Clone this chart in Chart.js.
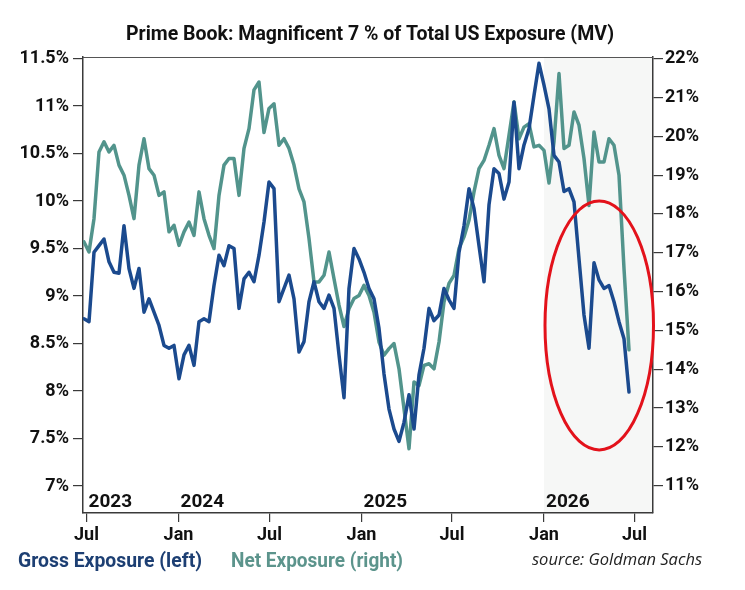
<!DOCTYPE html>
<html>
<head>
<meta charset="utf-8">
<script src="https://cdn.jsdelivr.net/npm/chart.js@4.4.1/dist/chart.umd.min.js"></script>
<style>
  html, body { margin: 0; padding: 0; background: #ffffff; }
  canvas { display: block; }
</style>
</head>
<body>
<canvas id="c" width="745" height="590"></canvas>
<script>
// ---------- text ----------
const titleText = 'Prime Book: Magnificent 7 % of Total US Exposure (MV)';
const grossLabel = 'Gross Exposure (left)';
const netLabel = 'Net Exposure (right)';
const sourceText = 'source: Goldman Sachs';

// ---------- sampling of the series (one reading every 10 days) ----------
const sampleStart = '2023-06-26';
const sampleStepDays = 10;

// Gross exposure, % (left axis)
const grossExposure = [
  8.76, 8.73, 9.46, 9.53, 9.60, 9.36, 9.25, 9.24, 9.74, 9.29,
  9.08, 9.29, 8.83, 8.97, 8.83, 8.69, 8.48, 8.45, 8.48, 8.13,
  8.38, 8.48, 8.27, 8.73, 8.76, 8.73, 9.11, 9.43, 9.32, 9.53,
  9.50, 8.87, 9.18, 9.25, 9.15, 9.43, 9.78, 10.20, 10.13, 8.94,
  9.08, 9.22, 8.97, 8.41, 8.52, 8.94, 9.15, 8.94, 8.87, 9.01,
  8.87, 8.38, 7.93, 9.08, 9.50, 9.39, 9.25, 9.08, 8.97, 8.66,
  8.18, 7.81, 7.60, 7.47, 7.67, 7.96, 7.60, 8.17, 8.45, 8.87,
  8.74, 8.80, 9.08, 8.96, 8.87, 9.46, 9.74, 10.13, 9.92, 9.53,
  9.15, 9.96, 10.34, 10.29, 10.02, 10.20, 11.04, 10.34, 10.59, 10.76,
  11.11, 11.45, 11.22, 10.97, 10.48, 10.41, 10.10, 10.13, 9.99, 9.39,
  8.80, 8.45, 9.35, 9.17, 9.08, 9.11, 8.94, 8.73, 8.55, 7.99
];

// Net exposure, % (right axis)
const netExposure = [
  17.28, 17.02, 17.88, 19.60, 19.86, 19.60, 19.77, 19.26, 19.00, 18.48,
  17.88, 19.26, 19.94, 19.17, 19.00, 18.48, 18.57, 17.54, 17.71, 17.19,
  17.54, 17.79, 17.45, 18.57, 17.88, 17.45, 17.11, 18.48, 19.26, 19.43,
  19.43, 18.48, 19.69, 20.20, 21.20, 21.40, 20.10, 20.72, 20.84, 19.77,
  19.94, 19.69, 19.26, 18.65, 18.31, 17.37, 16.25, 16.25, 16.42, 17.02,
  16.33, 15.65, 15.10, 15.56, 15.82, 15.90, 16.16, 15.90, 15.47, 14.70,
  14.36, 14.53, 14.66, 14.01, 12.98, 11.95, 13.67, 13.58, 14.10, 14.14,
  14.01, 14.70, 15.73, 16.21, 16.42, 17.11, 17.41, 17.84, 18.57, 19.17,
  19.38, 19.77, 20.20, 19.51, 19.17, 20.03, 20.89, 19.94, 20.24, 20.33,
  19.73, 19.77, 19.64, 18.80, 19.86, 21.62, 19.69, 19.77, 20.63, 20.29,
  19.43, 18.22, 20.11, 19.34, 19.34, 19.94, 19.77, 19.00, 16.59, 14.50
];

// ---------- axes ----------
const xTickDates  = ['2023-07-01', '2024-01-01', '2024-07-01', '2025-01-01', '2025-07-01', '2026-01-01', '2026-07-01'];
const xTickLabels = ['Jul', 'Jan', 'Jul', 'Jan', 'Jul', 'Jan', 'Jul'];
const yearLabelDates = ['2023-07-01', '2024-01-01', '2025-01-01', '2026-01-01'];
const yearLabels     = ['2023', '2024', '2025', '2026'];
const leftTicks  = [7, 7.5, 8, 8.5, 9, 9.5, 10, 10.5, 11, 11.5];
const rightTicks = [11, 12, 13, 14, 15, 16, 17, 18, 19, 20, 21, 22];
const xRangeDates = ['2023-06-24', '2026-08-07'];
const leftRange  = [6.716, 11.516];
const rightRange = [10.294, 22.046];

// highlighted period and circled area (data coordinates)
const shadeStartDate = '2026-01-01';
const circleDates = ['2026-01-03', '2026-08-08'];
const circleGross = [7.38, 10.0];

// ---------- helpers ----------
const MS_DAY = 86400000;
const EPOCH = Date.UTC(2023, 6, 1);
function dayOf(iso) {
  const [y, m, d] = iso.split('-').map(Number);
  return (Date.UTC(y, m - 1, d) - EPOCH) / MS_DAY;
}
const startMs = (() => { const [y, m, d] = sampleStart.split('-').map(Number); return Date.UTC(y, m - 1, d); })();
const sampleDates = grossExposure.map((_, i) => new Date(startMs + i * sampleStepDays * MS_DAY).toISOString().slice(0, 10));
const sampleDays = sampleDates.map(dayOf);
const pct = v => (Number.isInteger(v) ? String(v) : v.toFixed(1)) + '%';

function fitText(ctx, text, x, y, font, color, width) {
  ctx.save();
  ctx.font = font;
  ctx.fillStyle = color;
  ctx.textBaseline = 'alphabetic';
  ctx.textAlign = 'left';
  const w = ctx.measureText(text).width;
  ctx.translate(x, y);
  ctx.scale(width / w, 1);
  ctx.fillText(text, 0, 0);
  ctx.restore();
}

const GROSS_COLOR = '#1b4a8e';
const NET_COLOR = '#52948c';
const AXIS_COLOR = '#3a3a3a';
const TICK_FONT = { family: 'Roboto', size: 18, weight: 'bold' };

const decor = {
  id: 'decor',
  beforeDraw(chart) {
    const { ctx, chartArea: a, scales: { x } } = chart;
    const xs = x.getPixelForValue(dayOf(shadeStartDate));
    ctx.save();
    ctx.fillStyle = '#f6f7f6';
    ctx.fillRect(xs, a.top, a.right - xs, a.bottom - a.top);
    ctx.restore();
  },
  afterDatasetsDraw(chart) {
    const { ctx, chartArea: a, scales: { x, yL } } = chart;
    // top frame line
    ctx.save();
    ctx.strokeStyle = '#555';
    ctx.lineWidth = 1.2;
    ctx.beginPath();
    ctx.moveTo(a.left, a.top + 0.5);
    ctx.lineTo(a.right, a.top + 0.5);
    ctx.stroke();
    ctx.restore();
    // red ellipse
    const x1 = x.getPixelForValue(dayOf(circleDates[0]));
    const x2 = x.getPixelForValue(dayOf(circleDates[1]));
    const y1 = yL.getPixelForValue(circleGross[1]);
    const y2 = yL.getPixelForValue(circleGross[0]);
    ctx.save();
    ctx.strokeStyle = '#e3121b';
    ctx.lineWidth = 3;
    ctx.beginPath();
    ctx.ellipse((x1 + x2) / 2, (y1 + y2) / 2, (x2 - x1) / 2, (y2 - y1) / 2, 0, 0, Math.PI * 2);
    ctx.stroke();
    ctx.restore();
  },
  afterDraw(chart) {
    const { ctx, scales: { x } } = chart;
    // year labels inside the plot
    ctx.save();
    ctx.font = 'bold 19px Roboto';
    ctx.fillStyle = '#111';
    ctx.textAlign = 'left';
    ctx.textBaseline = 'alphabetic';
    yearLabels.forEach((t, i) => {
      ctx.fillText(t, x.getPixelForValue(dayOf(yearLabelDates[i])) + 2, 507);
    });
    ctx.restore();
    // title
    fitText(ctx, titleText, 126, 40, 'bold 21px Roboto', '#111', 488);
    // legend
    fitText(ctx, grossLabel, 18, 567, 'bold 20px Roboto', '#1d3f73', 184);
    fitText(ctx, netLabel, 231, 567, 'bold 20px Roboto', '#5c948c', 172);
    // source
    fitText(ctx, sourceText, 532, 565, 'italic 16px "Open Sans"', '#222', 170);
  }
};

const toPoints = arr => arr.map((v, i) => ({ x: sampleDays[i], y: v }));

new Chart(document.getElementById('c'), {
  type: 'line',
  data: {
    datasets: [
      {
        label: grossLabel,
        data: toPoints(grossExposure),
        yAxisID: 'yL',
        borderColor: GROSS_COLOR,
        borderWidth: 3.5,
        pointRadius: 0,
        tension: 0,
        borderJoinStyle: 'round',
        borderCapStyle: 'round'
      },
      {
        label: netLabel,
        data: toPoints(netExposure),
        yAxisID: 'yR',
        borderColor: NET_COLOR,
        borderWidth: 3.5,
        pointRadius: 0,
        tension: 0,
        borderJoinStyle: 'round',
        borderCapStyle: 'round'
      }
    ]
  },
  options: {
    responsive: false,
    animation: false,
    events: [],
    layout: { padding: { top: 57, bottom: 45, left: 0, right: 0 } },
    plugins: {
      legend: { display: false },
      title: { display: false },
      tooltip: { enabled: false }
    },
    scales: {
      x: {
        type: 'linear',
        position: 'bottom',
        min: dayOf(xRangeDates[0]),
        max: dayOf(xRangeDates[1]),
        afterBuildTicks: s => { s.ticks = xTickDates.map(d => ({ value: dayOf(d) })); },
        afterFit: s => { s.height = 32; },
        ticks: {
          autoSkip: false,
          maxRotation: 0,
          padding: 3,
          color: '#111',
          font: TICK_FONT,
          callback: (v, i) => xTickLabels[i]
        },
        grid: { drawOnChartArea: false, drawTicks: true, tickLength: 9, color: AXIS_COLOR, lineWidth: 1.2 },
        border: { display: true, color: AXIS_COLOR, width: 1.5 }
      },
      yL: {
        type: 'linear',
        position: 'left',
        min: leftRange[0],
        max: leftRange[1],
        afterBuildTicks: s => { s.ticks = leftTicks.map(v => ({ value: v })); },
        afterFit: s => { s.width = 83; },
        ticks: { padding: 4, color: '#111', font: TICK_FONT, callback: v => pct(v) },
        grid: { drawOnChartArea: false, drawTicks: true, tickLength: 10, color: AXIS_COLOR, lineWidth: 1.2 },
        border: { display: true, color: AXIS_COLOR, width: 1.5 }
      },
      yR: {
        type: 'linear',
        position: 'right',
        min: rightRange[0],
        max: rightRange[1],
        afterBuildTicks: s => { s.ticks = rightTicks.map(v => ({ value: v })); },
        afterFit: s => { s.width = 92; },
        ticks: { padding: 2, color: '#111', font: TICK_FONT, callback: v => pct(v) },
        grid: { drawOnChartArea: false, drawTicks: true, tickLength: 10, color: AXIS_COLOR, lineWidth: 1.2 },
        border: { display: true, color: AXIS_COLOR, width: 1.5 }
      }
    }
  },
  plugins: [decor]
});
</script>
</body>
</html>
